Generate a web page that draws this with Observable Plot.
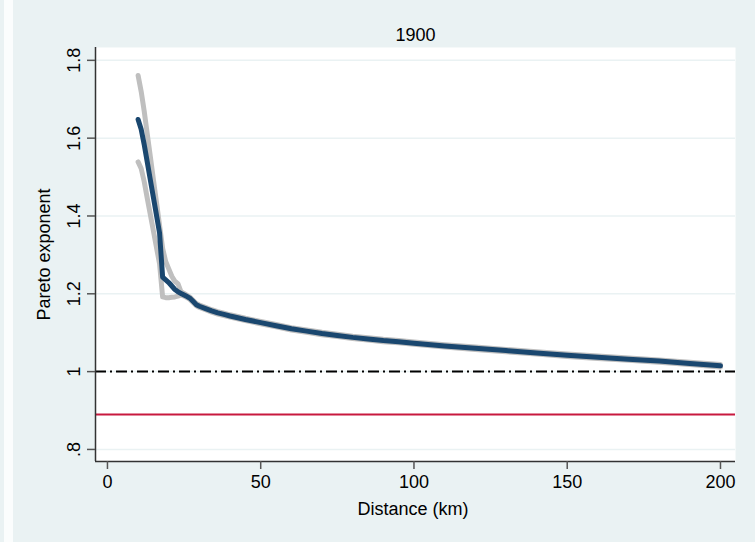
<!DOCTYPE html>
<html><head><meta charset="utf-8">
<script src="https://cdn.jsdelivr.net/npm/d3@7"></script>
<script src="https://cdn.jsdelivr.net/npm/@observablehq/plot@0.6"></script>
<style>
html,body{margin:0;padding:0;background:#eaf2f3;}
#wrap{position:relative;width:755px;height:542px;overflow:hidden;}
#strip{position:absolute;left:4px;top:0;width:9px;height:542px;background:#fbfdfd;}
#chart{position:absolute;left:0;top:0;}
</style></head><body><div id="wrap"><div id="strip"></div><div id="chart"></div></div>
<script>
const title = "1900";
const xLabel = "Distance (km)";
const yLabel = "Pareto exponent";
const dist = [10,11,12,13,14,15,16,17,18,19,20,21,22,23,24,25,26,27,28,29,30,32,34,36,38,40,45,50,55,60,65,70,75,80,85,90,95,100,110,120,130,140,150,160,170,180,190,200];
const estimate = [1.648,1.623,1.583,1.538,1.492,1.447,1.402,1.356,1.243,1.236,1.229,1.220,1.211,1.205,1.201,1.197,1.193,1.188,1.180,1.172,1.168,1.162,1.156,1.151,1.147,1.143,1.134,1.126,1.118,1.110,1.104,1.098,1.093,1.088,1.084,1.080,1.077,1.073,1.066,1.060,1.054,1.048,1.042,1.037,1.032,1.027,1.021,1.015];
const ciHigh = [1.761,1.720,1.669,1.610,1.552,1.493,1.435,1.376,1.317,1.283,1.264,1.245,1.232,1.226,1.205,1.201,1.196,1.191,1.183,1.175,1.171,1.165,1.159,1.154,1.150,1.146,1.137,1.129,1.121,1.113,1.107,1.101,1.096,1.091,1.087,1.083,1.080,1.076,1.069,1.063,1.057,1.051,1.045,1.040,1.035,1.030,1.024,1.018];
const ciLow = [1.539,1.522,1.488,1.445,1.403,1.361,1.319,1.277,1.192,1.190,1.190,1.191,1.192,1.194,1.197,1.194,1.190,1.185,1.177,1.169,1.165,1.159,1.153,1.148,1.144,1.140,1.131,1.123,1.115,1.107,1.101,1.095,1.090,1.085,1.081,1.077,1.074,1.070,1.063,1.057,1.051,1.045,1.039,1.034,1.029,1.024,1.018,1.012];
const refValue = [1];
const benchmark = [0.89];
const xTicks = [0,50,100,150,200];
const yTicks = [0.8,1,1.2,1.4,1.6,1.8];
const yTickLabels = [".8","1","1.2","1.4","1.6","1.8"];
const xDomain = [-3.9,204.9];
const yDomain = [0.769,1.833];

const rows = dist.map((d,i)=>({dist:d, est:estimate[i], hi:ciHigh[i], lo:ciLow[i]}));
const txt = {fontSize:18, fill:"#000", textAnchor:"middle", lineAnchor:"middle"};

const chart = Plot.plot({
  width:755, height:542, marginLeft:95, marginRight:20, marginTop:47, marginBottom:81,
  style:{background:"transparent", fontFamily:"'Liberation Sans', Arial, sans-serif", fontSize:"18px", color:"#000"},
  x:{domain:xDomain}, y:{domain:yDomain},
  marks:[
    Plot.frame({fill:"white", stroke:"none"}),
    Plot.ruleY(yTicks,{stroke:"#eaf2f3", strokeWidth:1.5}),
    Plot.ruleY(benchmark,{stroke:"#c8193f", strokeWidth:2}),
    Plot.ruleY(refValue,{stroke:"#000", strokeWidth:2, strokeDasharray:"11,4,2,4"}),
    Plot.line(rows,{x:"dist", y:"hi", stroke:"#bfbfbf", strokeWidth:5}),
    Plot.line(rows,{x:"dist", y:"lo", stroke:"#bfbfbf", strokeWidth:5}),
    Plot.line(rows,{x:"dist", y:"est", stroke:"#1a476f", strokeWidth:5}),
    Plot.ruleX([xDomain[0]],{stroke:"#333", strokeWidth:1.5}),
    Plot.ruleY([yDomain[0]],{stroke:"#333", strokeWidth:1.5}),
    Plot.axisX({ticks:xTicks, tickSize:8, tickPadding:6, stroke:"#555", strokeWidth:1.5, label:null, fontSize:18}),
    Plot.axisY({ticks:yTicks, tickSize:8, tickFormat:()=>"", stroke:"#555", strokeWidth:1.5, label:null}),
    Plot.text(yTicks,{...txt, y:d=>d, text:(d,i)=>yTickLabels[i], frameAnchor:"left", dx:-21.5, rotate:-90}),
    Plot.text([yLabel],{...txt, text:d=>d, frameAnchor:"left", dx:-51, rotate:-90}),
    Plot.text([xLabel],{...txt, text:d=>d, frameAnchor:"bottom", dx:-2.5, dy:48}),
    Plot.text([title],{...txt, text:d=>d, frameAnchor:"top", dy:-12.5})
  ]
});
document.getElementById("chart").appendChild(chart);
</script></body></html>
